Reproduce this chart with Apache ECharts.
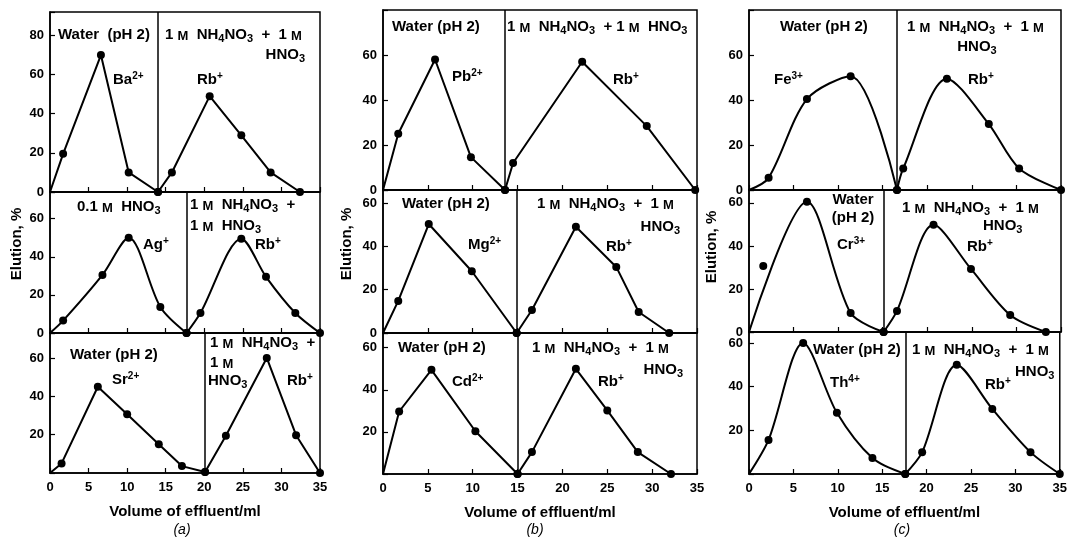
<!DOCTYPE html>
<html>
<head>
<meta charset="utf-8">
<script src="https://cdn.jsdelivr.net/npm/echarts@6/dist/echarts.min.js"></script>
<style>
html, body { margin: 0; padding: 0; background: #fff; }
#chart { width: 1070px; height: 537px; }
</style>
</head>
<body>
<div id="chart"></div>
<script>
// ---- values: [volume ml, elution %] ----
var baPts = [[0, 0], [1.7, 19.5], [6.6, 70], [10.2, 10], [14, 0]];
var rbA1 = [[14, 0], [15.8, 10], [20.7, 49], [24.8, 29], [28.6, 10], [32.4, 0]];
var agPts = [[0, 0], [1.7, 6.5], [6.8, 30.5], [10.2, 50], [14.3, 13.7], [17.7, 0]];
var rbA2 = [[17.7, 0], [19.5, 10.5], [24.8, 49.5], [28, 29.5], [31.8, 10.5], [35, 0]];
var srPts = [[0, 0], [1.5, 5], [6.2, 45], [10, 30.6], [14.1, 15], [17.1, 3.6], [20.1, 0.5]];
var rbA3 = [[20.1, 0.5], [22.8, 19.4], [28.1, 60], [31.9, 19.7], [35, 0]];

var pbPts = [[0, 0], [1.7, 25], [5.8, 58], [9.8, 14.6], [13.6, 0]];
var rbB1 = [[13.6, 0], [14.5, 12], [22.2, 57], [29.4, 28.4], [34.8, 0]];
var mgPts = [[0, 0], [1.7, 14.8], [5.1, 50.3], [9.9, 28.5], [14.9, 0]];
var rbB2 = [[14.9, 0], [16.6, 10.6], [21.5, 49], [26, 30.5], [28.5, 9.7], [31.9, 0]];
var cdPts = [[0, 0], [1.8, 29.7], [5.4, 49.5], [10.3, 20.3], [15, 0]];
var rbB3 = [[15, 0], [16.6, 10.4], [21.5, 50], [25, 30.2], [28.4, 10.4], [32.1, 0]];

var fePts = [[0, 0], [2.2, 5.4], [6.5, 40.4], [11.4, 50.6], [16.6, 0]];
var rbC1 = [[16.6, 0], [17.3, 9.6], [22.2, 49.5], [26.9, 29.3], [30.3, 9.6], [35, 0]];
var crPts = [[0, 0], [6.5, 60.5], [11.4, 8.8], [15.1, 0]];
var crOff = [[1.6, 30.7]];
var rbC2 = [[15.1, 0], [16.6, 9.8], [20.7, 49.8], [24.9, 29.3], [29.3, 7.9], [33.3, 0]];
var thPts = [[0, 0], [2.2, 15.6], [6.1, 60], [9.9, 28], [13.9, 7.3], [17.6, 0]];
var rbC3 = [[17.6, 0], [19.5, 10], [23.4, 50], [27.4, 29.8], [31.7, 10], [35, 0]];

// axis ranges and tick labels, panels in order a1 a2 a3 b1 b2 b3 c1 c2 c3
var yMax = [92, 74, 73, 80, 66, 67, 80, 66, 65];
var yLabels = [[0, 20, 40, 60, 80], [0, 20, 40, 60], [20, 40, 60],
               [0, 20, 40, 60], [0, 20, 40, 60], [20, 40, 60],
               [0, 20, 40, 60], [0, 20, 40, 60], [20, 40, 60]];
var ions = [baPts, agPts, srPts, pbPts, mgPts, cdPts, fePts, crPts, thPts];
var rbs = [rbA1, rbA2, rbA3, rbB1, rbB2, rbB3, rbC1, rbC2, rbC3];
var smooth = [0, 0.3, 0, 0, 0, 0, 0.3, 0.3, 0.3];

// layout: left, top, width, height in px
var boxes = [
  [50, 12, 270, 180], [50, 192, 270, 141], [50, 333, 270, 140],
  [383, 10, 314, 180], [383, 190, 314, 143], [383, 333, 314, 141],
  [749, 10, 312, 180], [749, 190, 312, 142], [749, 332, 312, 142]
];

var notes = [
  [58, 35, 'Water  (pH 2)'], [165, 35, '1 ~M  NH_4NO_3  +  1 ~M'], [305, 55, 'HNO_3', 'right'],
  [113, 80, 'Ba^2+'], [197, 80, 'Rb^+'],
  [77, 207, '0.1 ~M  HNO_3'], [190, 205, '1 ~M  NH_4NO_3  +'], [190, 226, '1 ~M  HNO_3'],
  [143, 245, 'Ag^+'], [255, 245, 'Rb^+'],
  [70, 355, 'Water (pH 2)'], [112, 380, 'Sr^2+'], [210, 343, '1 ~M  NH_4NO_3  +'],
  [210, 363, '1 ~M'], [208, 381, 'HNO_3'], [287, 381, 'Rb^+'],
  [392, 27, 'Water (pH 2)'], [507, 27, '1 ~M  NH_4NO_3  + 1 ~M  HNO_3'],
  [452, 77, 'Pb^2+'], [613, 80, 'Rb^+'],
  [402, 204, 'Water (pH 2)'], [537, 204, '1 ~M  NH_4NO_3  +  1 ~M'], [680, 227, 'HNO_3', 'right'],
  [468, 245, 'Mg^2+'], [606, 247, 'Rb^+'],
  [398, 348, 'Water (pH 2)'], [532, 348, '1 ~M  NH_4NO_3  +  1 ~M'], [683, 370, 'HNO_3', 'right'],
  [452, 382, 'Cd^2+'], [598, 382, 'Rb^+'],
  [780, 27, 'Water (pH 2)'], [907, 27, '1 ~M  NH_4NO_3  +  1 ~M'], [977, 47, 'HNO_3', 'center'],
  [774, 80, 'Fe^3+'], [968, 80, 'Rb^+'],
  [853, 200, 'Water', 'center'], [853, 218, '(pH 2)', 'center'], [837, 245, 'Cr^3+'],
  [902, 208, '1 ~M  NH_4NO_3  +  1 ~M'], [983, 226, 'HNO_3'], [967, 247, 'Rb^+'],
  [813, 350, 'Water (pH 2)'], [912, 350, '1 ~M  NH_4NO_3  +  1 ~M'], [1015, 372, 'HNO_3'],
  [830, 383, 'Th^4+'], [985, 385, 'Rb^+']
];

var font = 'Liberation Sans, Arial, Helvetica, sans-serif';

// "_4" subscript, "^2+" superscript, "~M" small capital
function chem(s) {
  var out = '', buf = '', i = 0;
  function flush() { if (buf) { out += '{t|' + buf + '}'; buf = ''; } }
  while (i < s.length) {
    var c = s[i];
    if (c === '_') { flush(); out += '{s|' + s[i + 1] + '}'; i += 2; }
    else if (c === '~') { flush(); out += '{m|' + s[i + 1] + '}'; i += 2; }
    else if (c === '^') {
      flush();
      var j = s.indexOf(' ', i);
      if (j < 0) j = s.length;
      out += '{u|' + s.slice(i + 1, j) + '}';
      i = j;
    } else { buf += c; i++; }
  }
  flush();
  return out;
}

var rich = {
  t: { fontSize: 15, fontWeight: 'bold', fontFamily: font, fill: '#000' },
  m: { fontSize: 13, fontWeight: 'bold', fontFamily: font, fill: '#000', padding: [3, 0, 0, 0] },
  s: { fontSize: 11, fontWeight: 'bold', fontFamily: font, fill: '#000', verticalAlign: 'bottom', padding: [8, 0, 0, 0] },
  u: { fontSize: 10, fontWeight: 'bold', fontFamily: font, fill: '#000', verticalAlign: 'top', padding: [0, 0, 8, 0] }
};

function dots(pts) {
  return pts.map(function (p) {
    return p[0] === 0 ? { value: p, symbol: 'none' } : p;
  });
}

var grids = [], xAxes = [], yAxes = [], series = [];
boxes.forEach(function (b, i) {
  var bottom = i % 3 === 2;
  var labels = yLabels[i];
  grids.push({
    left: b[0], top: b[1], width: b[2], height: b[3],
    show: true, borderColor: '#000', borderWidth: 1.5
  });
  xAxes.push({
    gridIndex: i, type: 'value', min: 0, max: 35, interval: 5,
    axisLine: { lineStyle: { color: '#000', width: 1.5 } },
    axisTick: { inside: true, length: 5, lineStyle: { color: '#000', width: 1.2 } },
    axisLabel: { show: bottom, color: '#000', fontSize: 13, fontWeight: 'bold', fontFamily: font, margin: 8 },
    splitLine: { show: false },
    name: bottom ? 'Volume of effluent/ml' : '',
    nameLocation: 'middle', nameGap: 31,
    nameTextStyle: { color: '#000', fontSize: 15, fontWeight: 'bold', fontFamily: font }
  });
  yAxes.push({
    gridIndex: i, type: 'value', min: 0, max: yMax[i], interval: 20,
    axisLine: { lineStyle: { color: '#000', width: 1.5 } },
    axisTick: { inside: true, length: 5, lineStyle: { color: '#000', width: 1.2 } },
    axisLabel: {
      color: '#000', fontSize: 13, fontWeight: 'bold', fontFamily: font, margin: 6,
      formatter: function (v) { return labels.indexOf(v) >= 0 ? String(v) : ''; }
    },
    splitLine: { show: false }
  });
  var common = {
    type: 'line', xAxisIndex: i, yAxisIndex: i,
    smooth: smooth[i], symbol: 'circle', symbolSize: 8,
    lineStyle: { color: '#000', width: 2 },
    itemStyle: { color: '#000' },
    z: 3
  };
  series.push(Object.assign({}, common, { data: dots(ions[i]) }));
  series.push(Object.assign({}, common, {
    data: dots(rbs[i]),
    markLine: {
      silent: true, symbol: ['none', 'none'], label: { show: false },
      lineStyle: { color: '#000', type: 'solid', width: 1.5 },
      data: [{ xAxis: rbs[i][0][0] }]
    }
  }));
});

series.push({
  type: 'scatter', xAxisIndex: 7, yAxisIndex: 7, data: crOff,
  symbol: 'circle', symbolSize: 8, itemStyle: { color: '#000', opacity: 1 }
});

var graphics = notes.map(function (n) {
  return {
    type: 'text', x: n[0], y: n[1], z: 100,
    style: {
      text: chem(n[2]), rich: rich, align: n[3] || 'left', verticalAlign: 'middle',
      fill: '#000', fontSize: 15, fontWeight: 'bold', fontFamily: font
    }
  };
});
[[17, 244], [347, 244], [712, 247]].forEach(function (p) {
  graphics.push({
    type: 'text', x: p[0], y: p[1], rotation: Math.PI / 2,
    style: { text: 'Elution, %', align: 'center', verticalAlign: 'middle', fill: '#000', fontSize: 15, fontWeight: 'bold', fontFamily: font }
  });
});
[[182, 530, '(a)'], [535, 530, '(b)'], [902, 530, '(c)']].forEach(function (p) {
  graphics.push({
    type: 'text', x: p[0], y: p[1],
    style: { text: p[2], align: 'center', verticalAlign: 'middle', fill: '#000', fontSize: 14, fontStyle: 'italic', fontFamily: font }
  });
});

var chart = echarts.init(document.getElementById('chart'));
chart.setOption({
  animation: false,
  backgroundColor: '#fff',
  grid: grids,
  xAxis: xAxes,
  yAxis: yAxes,
  series: series,
  graphic: graphics
});
</script>
</body>
</html>
